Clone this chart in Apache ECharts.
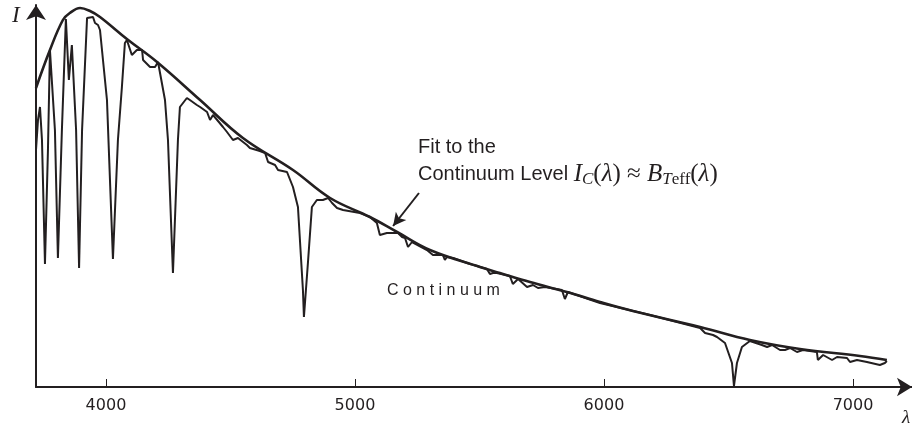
<!DOCTYPE html>
<html lang="en">
<head>
    <meta charset="UTF-8">
    <title>Continuum fit</title>
    <script src="https://cdn.jsdelivr.net/npm/echarts@6/dist/echarts.min.js"></script>
    <style>
        *{
            margin: 0;
            padding: 0;
        }
        #box{
            width: 912px;
            height: 428px;
            background: #fff;
        }
    </style>
</head>
<body>
<div id="box"></div>
<script type="text/javascript">
    // wavelength (Angstrom), intensity (arbitrary)
    let continuum = [
        [3719, 299], [3775, 337], [3827, 367], [3855, 374], [3896, 379], [3936, 376],
        [3976, 370], [4084, 348], [4205, 325], [4378, 287], [4550, 249], [4751, 217],
        [4900, 189], [5060, 170], [5169, 155], [5301, 137], [5502, 120], [5582, 114],
        [5703, 105], [5851, 95], [5984, 85], [6116, 76], [6386, 60], [6586, 47],
        [6787, 38], [7028, 31], [7136, 27]
    ];
    let spectrum = [
        [3719, 237], [3727, 267], [3735, 280], [3743, 247], [3755, 123], [3767, 237],
        [3775, 337], [3795, 257], [3807, 129], [3823, 257], [3839, 368], [3851, 307],
        [3863, 342], [3880, 257], [3892, 119], [3904, 257], [3924, 369], [3948, 370],
        [3956, 364], [3968, 362], [3976, 357], [4004, 287], [4028, 128], [4048, 247],
        [4064, 300], [4076, 344], [4084, 347], [4104, 332], [4124, 337], [4145, 337],
        [4149, 327], [4177, 320], [4197, 320], [4209, 325], [4237, 287], [4249, 247],
        [4269, 114], [4289, 247], [4297, 280], [4325, 289], [4337, 287], [4365, 282],
        [4378, 280], [4406, 275], [4418, 267], [4430, 272], [4470, 260], [4486, 255],
        [4510, 247], [4530, 249], [4566, 242], [4578, 239], [4618, 236], [4639, 234],
        [4651, 225], [4679, 222], [4691, 217], [4727, 215], [4751, 200], [4771, 180],
        [4791, 97], [4795, 70], [4811, 124], [4827, 180], [4847, 187], [4871, 187],
        [4892, 189], [4908, 184], [4928, 179], [4952, 177], [5020, 174], [5060, 170],
        [5088, 164], [5100, 152], [5108, 154], [5128, 154], [5173, 154], [5189, 150],
        [5201, 149], [5213, 140], [5229, 145], [5289, 137], [5313, 132], [5353, 132],
        [5361, 127], [5369, 130], [5394, 129], [5462, 123], [5530, 118], [5542, 113],
        [5554, 114], [5570, 114], [5622, 111], [5634, 103], [5655, 108], [5691, 100],
        [5715, 102], [5735, 99], [5743, 97], [5763, 100], [5831, 97], [5843, 88],
        [5855, 95], [5984, 84], [6185, 72], [6386, 59], [6406, 54], [6438, 52],
        [6454, 50], [6486, 44], [6514, 24], [6522, 1], [6534, 24], [6554, 40],
        [6586, 46], [6634, 42], [6655, 40], [6675, 42], [6707, 37], [6727, 37],
        [6747, 39], [6775, 35], [6799, 37], [6855, 35], [6859, 27], [6880, 32],
        [6916, 27], [6936, 30], [6976, 29], [6988, 25], [7016, 27], [7056, 25],
        [7108, 22], [7128, 24], [7136, 26]
    ];
    let ticks = [4000, 5000, 6000, 7000];
    // arrow of the annotation: start, tip
    let arrowFrom = [5257, 194];
    let arrowTo = [5153, 161];

    let ink = '#231f20';
    let chart = echarts.init(document.getElementById('box'));
    let option = {
        animation: false,
        grid: {left: 36, right: 0, top: 5, bottom: 41},
        xAxis: {
            type: 'value',
            min: 3719,
            max: 7237,
            splitLine: {show: false},
            axisLine: {
                lineStyle: {color: ink, width: 2},
                symbol: ['none', 'arrow'],
                symbolSize: [14, 15]
            },
            axisTick: {
                inside: true,
                length: 8,
                lineStyle: {color: ink, width: 1},
                customValues: ticks
            },
            axisLabel: {
                customValues: ticks,
                formatter: function (v) {
                    return String(v);
                },
                color: ink,
                fontFamily: 'DejaVu Sans',
                fontSize: 16,
                margin: 11
            }
        },
        yAxis: {
            type: 'value',
            min: 0,
            max: 382,
            splitLine: {show: false},
            axisLine: {
                lineStyle: {color: ink, width: 2},
                symbol: ['none', 'arrow'],
                symbolSize: [15, 15]
            },
            axisTick: {show: false},
            axisLabel: {show: false}
        },
        graphic: [
            {type: 'text', left: 12, top: 4, style: {text: 'I', font: 'italic 23px "Liberation Serif"', fill: ink}},
            {type: 'text', left: 902, top: 408, style: {text: 'λ', font: 'italic 19px "Liberation Serif"', fill: ink}},
            {type: 'text', left: 387, top: 283, style: {text: 'C o n t i n u u m', font: '16px "Liberation Sans"', fill: ink}},
            {type: 'text', left: 418, top: 137, style: {text: 'Fit to the', font: '20px "Liberation Sans"', fill: ink}},
            {
                type: 'text', left: 418, top: 162,
                style: {
                    text: 'Continuum Level {i|I}{sub|C}{r|(}{i|λ}{r|) ≈ }{i|B}{sub|T}{ss|eff}{r|(}{i|λ}{r|)}',
                    font: '20px "Liberation Sans"',
                    fill: ink,
                    rich: {
                        i: {fontFamily: 'Liberation Serif', fontStyle: 'italic', fontSize: 25, fill: ink},
                        r: {fontFamily: 'Liberation Serif', fontSize: 25, fill: ink},
                        sub: {fontFamily: 'Liberation Serif', fontStyle: 'italic', fontSize: 17, verticalAlign: 'bottom', padding: [10, 0, 0, 0], fill: ink},
                        ss: {fontFamily: 'Liberation Serif', fontSize: 17, verticalAlign: 'bottom', padding: [10, 0, 0, 0], fill: ink}
                    }
                }
            }
        ],
        series: [
            {
                name: 'spectrum',
                type: 'line',
                data: spectrum,
                showSymbol: false,
                clip: false,
                lineStyle: {color: ink, width: 2},
                markLine: {
                    silent: true,
                    symbol: ['none', 'arrow'],
                    symbolSize: [10, 13],
                    label: {show: false},
                    lineStyle: {color: ink, width: 2, type: 'solid'},
                    data: [[{coord: arrowFrom}, {coord: arrowTo}]]
                }
            },
            {
                name: 'fit',
                type: 'line',
                data: continuum,
                smooth: 0.4,
                showSymbol: false,
                clip: false,
                lineStyle: {color: ink, width: 2.6}
            }
        ]
    };
    chart.setOption(option);
</script>
</body>
</html>
